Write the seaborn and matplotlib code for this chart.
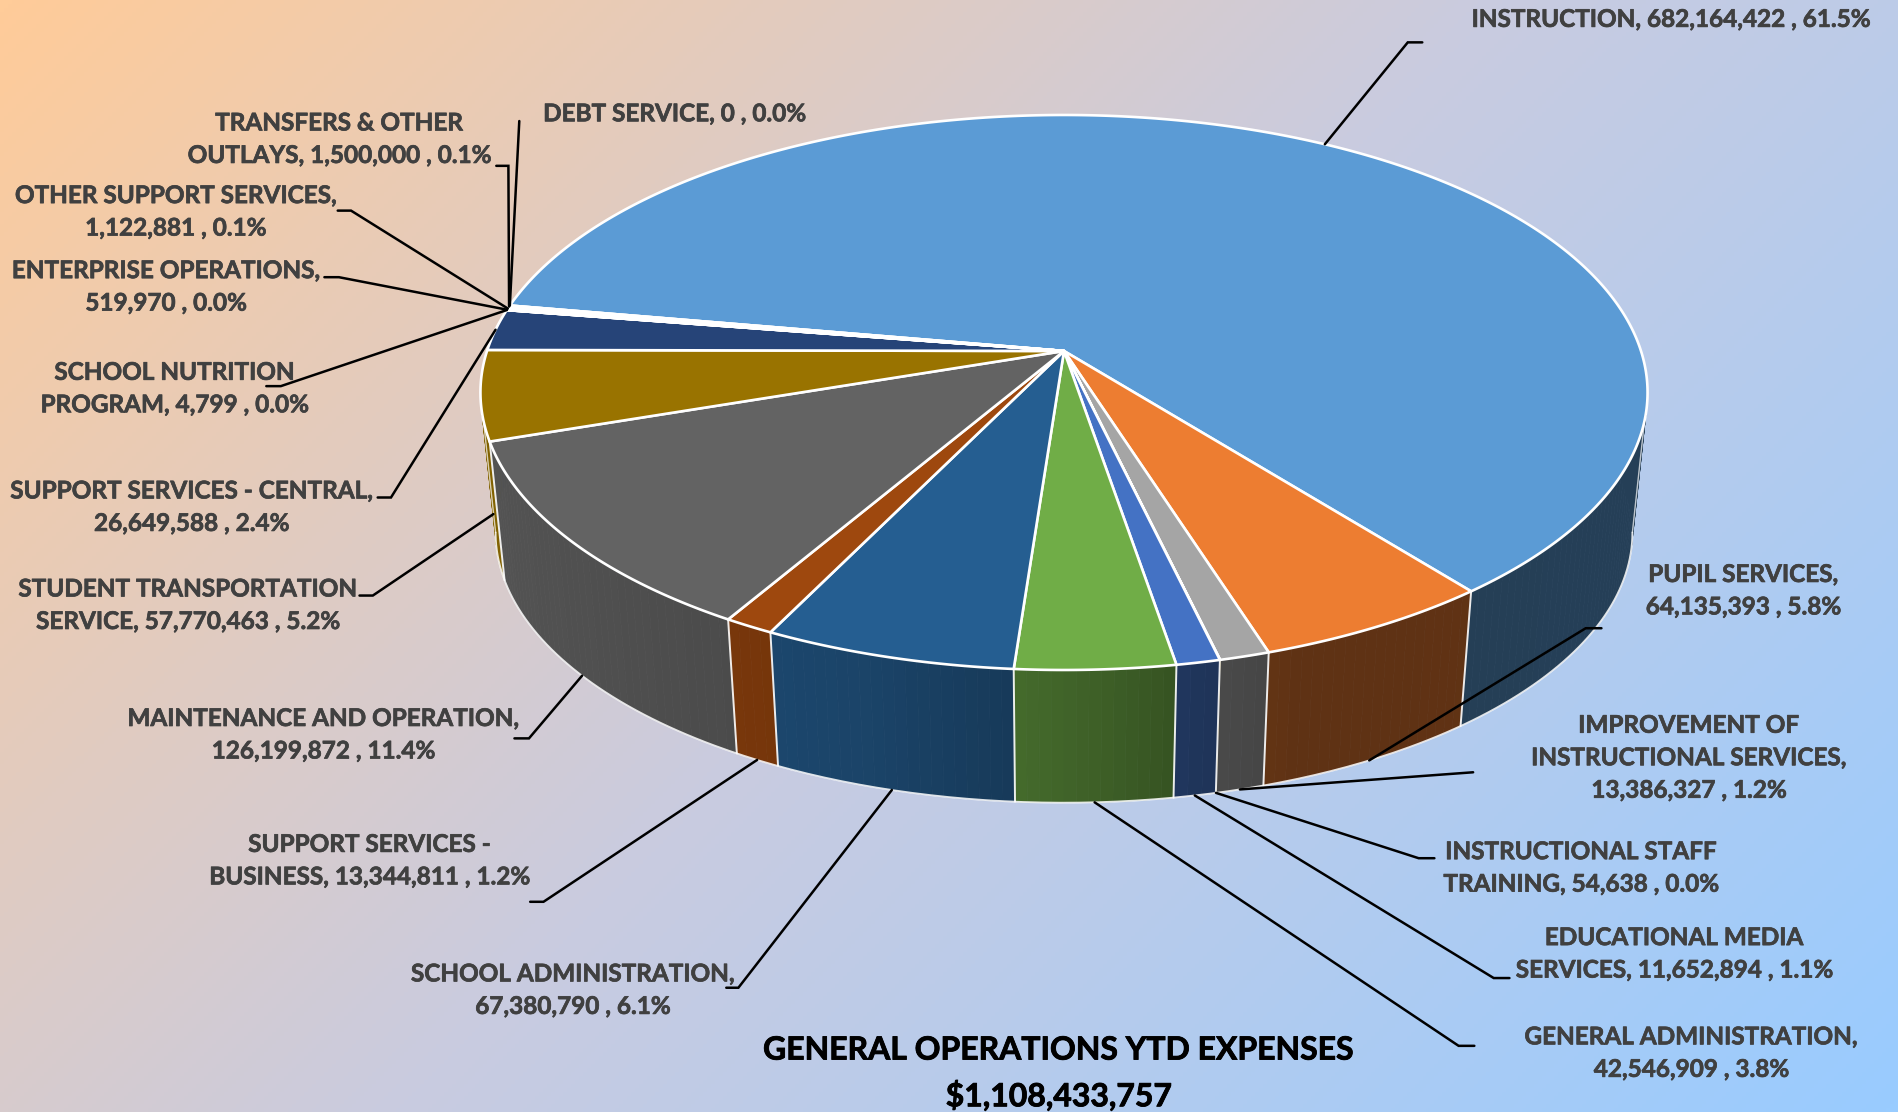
import numpy as np
import matplotlib
matplotlib.use("Agg")
import matplotlib.pyplot as plt
import matplotlib.patheffects as pe
from matplotlib.collections import PolyCollection
from matplotlib.colors import LinearSegmentedColormap, to_rgb
import seaborn as sns

# ---------- data ----------
categories = ["INSTRUCTION", "PUPIL SERVICES", "IMPROVEMENT OF INSTRUCTIONAL SERVICES",
              "INSTRUCTIONAL STAFF TRAINING", "EDUCATIONAL MEDIA SERVICES", "GENERAL ADMINISTRATION",
              "SCHOOL ADMINISTRATION", "SUPPORT SERVICES - BUSINESS", "MAINTENANCE AND OPERATION",
              "STUDENT TRANSPORTATION SERVICE", "SUPPORT SERVICES - CENTRAL", "SCHOOL NUTRITION PROGRAM",
              "ENTERPRISE OPERATIONS", "OTHER SUPPORT SERVICES", "TRANSFERS & OTHER OUTLAYS", "DEBT SERVICE"]
values = [682164422, 64135393, 13386327, 54638, 11652894, 42546909, 67380790, 13344811,
          126199872, 57770463, 26649588, 4799, 519970, 1122881, 1500000, 0]
label_templates = ["INSTRUCTION, {v} , {p}", "PUPIL SERVICES,\n{v} , {p}",
                   "IMPROVEMENT OF\nINSTRUCTIONAL SERVICES,\n{v} , {p}",
                   "INSTRUCTIONAL STAFF\nTRAINING, {v} , {p}", "EDUCATIONAL MEDIA\nSERVICES, {v} , {p}",
                   "GENERAL ADMINISTRATION,\n{v} , {p}", "SCHOOL ADMINISTRATION,\n{v} , {p}",
                   "SUPPORT SERVICES -\nBUSINESS, {v} , {p}", "MAINTENANCE AND OPERATION,\n{v} , {p}",
                   "STUDENT TRANSPORTATION\nSERVICE, {v} , {p}", "SUPPORT SERVICES - CENTRAL,\n{v} , {p}",
                   "SCHOOL NUTRITION\nPROGRAM, {v} , {p}", "ENTERPRISE OPERATIONS,\n{v} , {p}",
                   "OTHER SUPPORT SERVICES,\n{v} , {p}", "TRANSFERS & OTHER\nOUTLAYS, {v} , {p}",
                   "DEBT SERVICE, {v} , {p}"]
title_lines = ["GENERAL OPERATIONS YTD EXPENSES", "$1,108,433,757"]
slice_colors = ["#5B9BD5", "#ED7D31", "#A5A5A5", "#FFC000", "#4472C4", "#70AD47", "#255E91", "#9E480E",
                "#636363", "#997300", "#264478", "#43682B", "#698ED0", "#F1975A", "#B7B7B7", "#FFCD33"]

# ---------- layout (preview units, 1568 wide) ----------
S = 1898 / 1568
label_pos = [(1380, 16), (1440, 488), (1395, 626), (1306, 717), (1383, 788), (1397, 870), (473, 818),
             (305, 711), (267, 607), (155, 500), (158, 419), (144, 321), (137, 237), (145, 175),
             (280, 115), (557, 94)]
leader_knots = [[(1175, 35), (1163, 35)], [(1323, 519), (1310, 519)], [(1217, 638)], [(1185, 709), (1172, 709)],
                [(1247, 808), (1234, 808)], [(1218, 864), (1205, 864)], [(600, 816), (610, 816)],
                [(438, 745), (449, 745)], [(425, 610), (437, 610)], [(297, 492), (308, 492)],
                [(312, 411), (323, 411)], [(220, 319), (232, 319)], [(268, 229), (280, 229)],
                [(279, 174), (290, 174)], [(410, 137), (420, 137)], [(429, 100)]]
anchor_level = [0, 1, 1, 1, 1, 1, 1, 1, 1, 0.85, 0, 0, 0, 0, 0, 0]

# projection of the disc
CX, CY = 1064.0, 351.0
A, B, K = 577.0, 271.3, 0.1495
DROP, SHRINK = 141.0, 0.974
START = np.radians(170.1)


def project(theta, level=0.0):
    X, Y = np.cos(theta), np.sin(theta)
    w = 1 + K * Y
    sc = 1 + (SHRINK - 1) * level
    return CX + sc * A * X / w, CY + DROP * level - sc * B * Y / w


sns.set_theme(style="white")
plt.rcParams["font.family"] = ["Lato", "DejaVu Sans"]
palette = sns.color_palette(slice_colors)

fig = plt.figure(figsize=(18.98, 11.12), dpi=100)
ax = fig.add_axes([0, 0, 1, 1])
ax.set_xlim(0, 1898)
ax.set_ylim(1112, 0)
ax.axis("off")

# background gradient at 45 degrees in pixel space
cmap = LinearSegmentedColormap.from_list("bg", ["#FFCC99", "#C9CBE0", "#99CCFF"])
gx, gy = np.meshgrid(np.linspace(0, 1898, 475), np.linspace(0, 1112, 278))
ax.imshow((gx + gy) / (1898 + 1112), extent=(0, 1898, 1112, 0), cmap=cmap, vmin=0, vmax=1,
          aspect="auto", zorder=0)

# slice angles, clockwise from START
total = sum(values)
fractions = np.array(values, dtype=float) / total
edges = START - 2 * np.pi * np.concatenate([[0], np.cumsum(fractions)])

# side wall, back to front
quads, qcolors, qdepth = [], [], []
for i, col in enumerate(palette):
    t0, t1 = edges[i], edges[i + 1]
    n = max(2, int(abs(t1 - t0) / np.radians(1.0)))
    ts = np.linspace(t0, t1, n + 1)
    for a0, a1 in zip(ts[:-1], ts[1:]):
        p = [project(a0, 0), project(a1, 0), project(a1, 1), project(a0, 1)]
        m = (a0 + a1) / 2
        f = np.interp(np.cos(m), [-1, -0.3, 0, 0.2, 0.35, 1], [0.85, 0.72, 0.58, 0.46, 0.40, 0.41])
        quads.append(p)
        qcolors.append(tuple(c * f for c in to_rgb(col)))
        qdepth.append(np.sin(m))
order = np.argsort(-np.array(qdepth))
ax.add_collection(PolyCollection([quads[j] for j in order], facecolors=[qcolors[j] for j in order],
                                 edgecolors=[qcolors[j] for j in order], linewidths=0.5, zorder=2))

# wall seams, lower rim and silhouette
for i in range(1, len(values)):
    t = edges[i]
    if np.sin(t) < -0.15 and fractions[i] > 0.0005:
        x0, y0 = project(t, 0)
        x1, y1 = project(t, 1)
        ax.plot([x0, x1], [y0, y1], color="white", lw=1.4, alpha=0.9, zorder=3)
rim = np.linspace(np.radians(-8.6), np.radians(-171.4), 300)
rx, ry = project(rim, 1)
ax.plot(rx, ry, color="white", lw=1.3, alpha=0.85, zorder=3)
for t in (rim[0], rim[-1]):
    x0, y0 = project(t, 0)
    x1, y1 = project(t, 1)
    ax.plot([x0, x1], [y0, y1], color="white", lw=1.0, alpha=0.7, zorder=3)

# top faces
for i, col in enumerate(palette):
    ts = np.linspace(edges[i], edges[i + 1], max(2, int(abs(edges[i + 1] - edges[i]) / np.radians(0.5)) + 1))
    x, y = project(ts, 0)
    ax.fill(np.r_[CX, x], np.r_[CY, y], facecolor=col, edgecolor="white", linewidth=1.9,
            joinstyle="round", zorder=4)

# labels and leaders
for i, tpl in enumerate(label_templates):
    pct = f"{values[i] / total * 100:.1f}%"
    txt = tpl.format(v=f"{values[i]:,}", p=pct)
    lx, ly = label_pos[i]
    ax.text(lx * S, ly * S, txt, ha="center", va="center", ma="center", color="#404040",
            fontsize=17.5, fontweight="bold", linespacing=1.5, zorder=6,
            path_effects=[pe.withStroke(linewidth=0.5, foreground="#404040")])
    mid = (edges[i] + edges[i + 1]) / 2
    ax_, ay_ = project(mid, anchor_level[i])
    pts = [(px * S, py * S) for px, py in leader_knots[i]] + [(float(ax_), float(ay_))]
    ax.plot(*zip(*pts), color="black", lw=1.8, solid_joinstyle="miter", zorder=5)

for line, ypos in zip(title_lines, (867.5, 905)):
    ax.text(875 * S, ypos * S, line, ha="center", va="center", color="black", fontsize=23,
            fontweight="bold", zorder=6, path_effects=[pe.withStroke(linewidth=0.6, foreground="black")])

fig.savefig("out.png", dpi=100)
